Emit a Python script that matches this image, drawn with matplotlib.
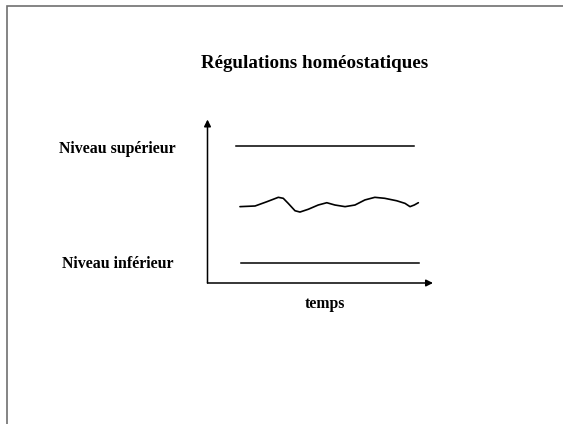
import matplotlib
matplotlib.use("Agg")
import matplotlib.pyplot as plt
from matplotlib.patches import Rectangle

# ============================================================
# DONNÉES (temps et niveau en % de la longueur des axes)
# ============================================================

temps = [14.4, 21.1, 26.3, 31.4, 33.6, 35.8, 38.8, 41.0, 44.7, 49.1, 52.9,
         56.5, 61.0, 65.4, 69.8, 74.2, 78.6, 83.9, 87.6, 89.8, 91.7, 93.5]
valeur = [46.7, 47.1, 49.7, 52.4, 51.8, 48.7, 44.2, 43.4, 45.1, 47.7, 49.1,
          47.7, 46.7, 47.7, 50.8, 52.4, 51.8, 50.3, 48.7, 46.7, 47.7, 49.1]

niveau_sup = 84.0
sup_debut, sup_fin = 12.5, 91.6
niveau_inf = 12.0
inf_debut, inf_fin = 14.7, 93.7

titre = "Régulations homéostatiques"
label_sup = "Niveau supérieur"
label_inf = "Niveau inférieur"
label_temps = "temps"

# ============================================================
# FIGURE
# ============================================================

plt.rcParams['font.family'] = ['Liberation Serif', 'DejaVu Serif']

W, H = 563, 424
fig = plt.figure(figsize=(W / 100, H / 100), dpi=100)

# cadre de la diapositive
fig.patches.append(Rectangle((6.5 / W, -0.1), 2.0, 1.1 - 6.5 / H,
                             transform=fig.transFigure, fill=False,
                             edgecolor='#707070', linewidth=1.2))

fig.text(314.2 / W, 1 - 68.3 / H, titre, ha='center', va='baseline',
         fontsize=13.7, fontweight='bold')

ax = fig.add_axes([207.5 / W, (H - 283) / H, 225.5 / W, 163.5 / H])
ax.set_xlim(0, 100)
ax.set_ylim(0, 100)
ax.axis('off')

# axes avec flèches
ax.annotate('', xy=(1, 0), xytext=(0, 0), xycoords='axes fraction',
            arrowprops=dict(arrowstyle='-|>', color='k', lw=1.1,
                            mutation_scale=10, shrinkA=0, shrinkB=0))
ax.annotate('', xy=(0, 1), xytext=(0, 0), xycoords='axes fraction',
            arrowprops=dict(arrowstyle='-|>', color='k', lw=1.1,
                            mutation_scale=10, shrinkA=0, shrinkB=0))

ax.plot([sup_debut, sup_fin], [niveau_sup, niveau_sup], color='k', lw=1.1)
ax.plot([inf_debut, inf_fin], [niveau_inf, niveau_inf], color='k', lw=1.1)
ax.plot(temps, valeur, color='k', lw=1.2, solid_joinstyle='round',
        solid_capstyle='round')

ax.text(-39.9, 79.3, label_sup, ha='center', va='baseline', fontsize=11.4,
        fontweight='bold', clip_on=False)
ax.text(-39.6, 9.0, label_inf, ha='center', va='baseline', fontsize=11.4,
        fontweight='bold', clip_on=False)
ax.text(52.1, -15.5, label_temps, ha='center', va='baseline', fontsize=11.4,
        fontweight='bold', clip_on=False)

fig.savefig("out.png", dpi=100)
